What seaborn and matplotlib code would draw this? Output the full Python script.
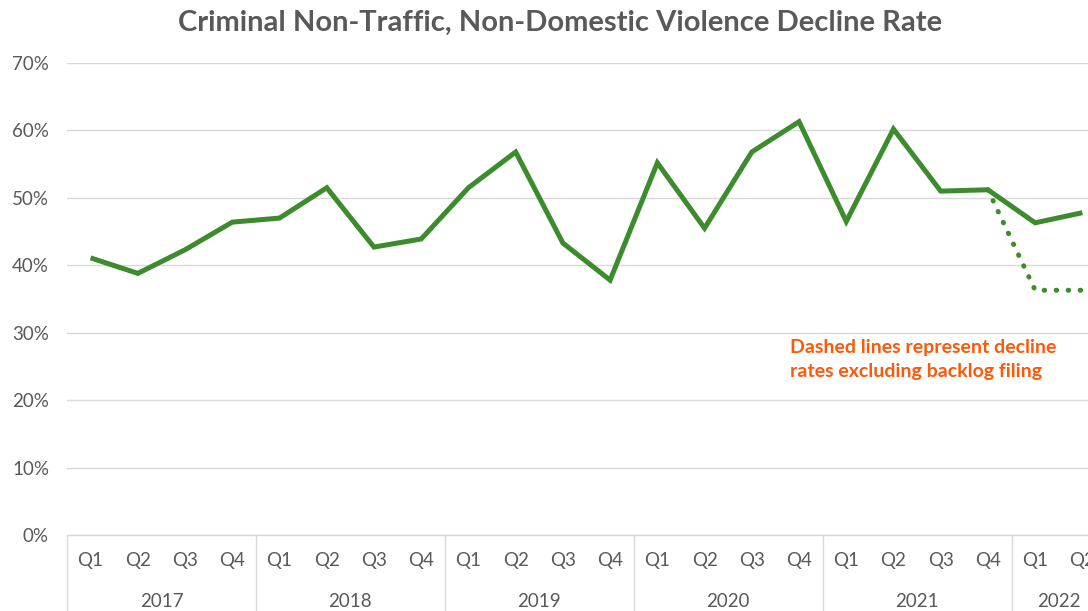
import numpy as np
import pandas as pd
import matplotlib
matplotlib.use("Agg")
import matplotlib.pyplot as plt
import matplotlib.transforms as mtransforms
import seaborn as sns

# Data
years = ["2017", "2018", "2019", "2020", "2021", "2022"]
quarters = ["Q1", "Q2", "Q3", "Q4"] * 5 + ["Q1", "Q2"]
decline_rate = [0.411, 0.388, 0.423, 0.464, 0.470, 0.515,
                0.427, 0.439, 0.515, 0.568, 0.433, 0.378,
                0.552, 0.455, 0.568, 0.613, 0.465, 0.602,
                0.510, 0.512, 0.463, 0.478]
# dotted series: excluding backlog filing (2021 Q4 -> 2022 Q2)
excl_idx = [19, 20, 21]
excl_rate = [0.512, 0.363, 0.363]

GREEN = "#3C8C2E"
GREY_TXT = "#595959"
GRID = "#D9D9D9"
ORANGE = "#FA5A0A"

sns.set_theme(style="white")
plt.rcParams["font.family"] = ["Lato", "DejaVu Sans"]

df = pd.DataFrame({"idx": np.arange(len(decline_rate)), "rate": decline_rate})
df_ex = pd.DataFrame({"idx": excl_idx, "rate": excl_rate})

fig = plt.figure(figsize=(10.88, 6.11), dpi=100)
ax = fig.add_axes([67 / 1088, 76 / 611, 1039 / 1088, 472 / 611])

sns.lineplot(data=df, x="idx", y="rate", ax=ax, color=GREEN, linewidth=3.6,
             solid_joinstyle="miter", solid_capstyle="butt")
sns.lineplot(data=df_ex, x="idx", y="rate", ax=ax, color=GREEN, linewidth=3.6,
             linestyle=(0, (0.1, 2.3)), dash_capstyle="round")

ax.set_xlim(-0.5, len(decline_rate) - 0.5)
ax.set_ylim(0, 0.7)
ax.set_yticks(np.arange(0, 0.71, 0.1))
ax.set_yticklabels([f"{int(round(v * 100))}%" for v in np.arange(0, 0.71, 0.1)])
ax.yaxis.grid(True, color=GRID, linewidth=1)
ax.set_axisbelow(True)

ax.set_xticks(np.arange(len(quarters)))
ax.set_xticklabels(quarters)
ax.tick_params(axis="both", length=0, labelsize=13.5, colors=GREY_TXT)
ax.tick_params(axis="x", pad=12)
ax.tick_params(axis="y", pad=13)
ax.set_xlabel("")
ax.set_ylabel("")

for s in ["top", "right", "left"]:
    ax.spines[s].set_visible(False)
ax.spines["bottom"].set_color(GRID)
ax.spines["bottom"].set_linewidth(1)

# year group labels and separators
trans = mtransforms.blended_transform_factory(ax.transData, ax.transAxes)
for i, yr in enumerate(years):
    start = i * 4
    end = min(start + 3, len(quarters) - 1)
    centre = (start + start + 3) / 2 if i < len(years) - 1 else (start + end) / 2
    ax.text(centre, -0.14, yr, transform=trans, ha="center", va="center",
            fontsize=13.5, color=GREY_TXT)
    ax.plot([start - 0.5, start - 0.5], [0, -0.17], transform=trans,
            color=GRID, linewidth=1, clip_on=False)

ax.text(14.8, 0.291, "Dashed lines represent decline\nrates excluding backlog filing",
        ha="left", va="top", fontsize=14, fontweight="bold", color=ORANGE,
        linespacing=1.5)

fig.text(0.515, 0.963, "Criminal Non-Traffic, Non-Domestic Violence Decline Rate",
         ha="center", va="center", fontsize=21, fontweight="bold", color=GREY_TXT)

fig.savefig("out.png", dpi=100)
